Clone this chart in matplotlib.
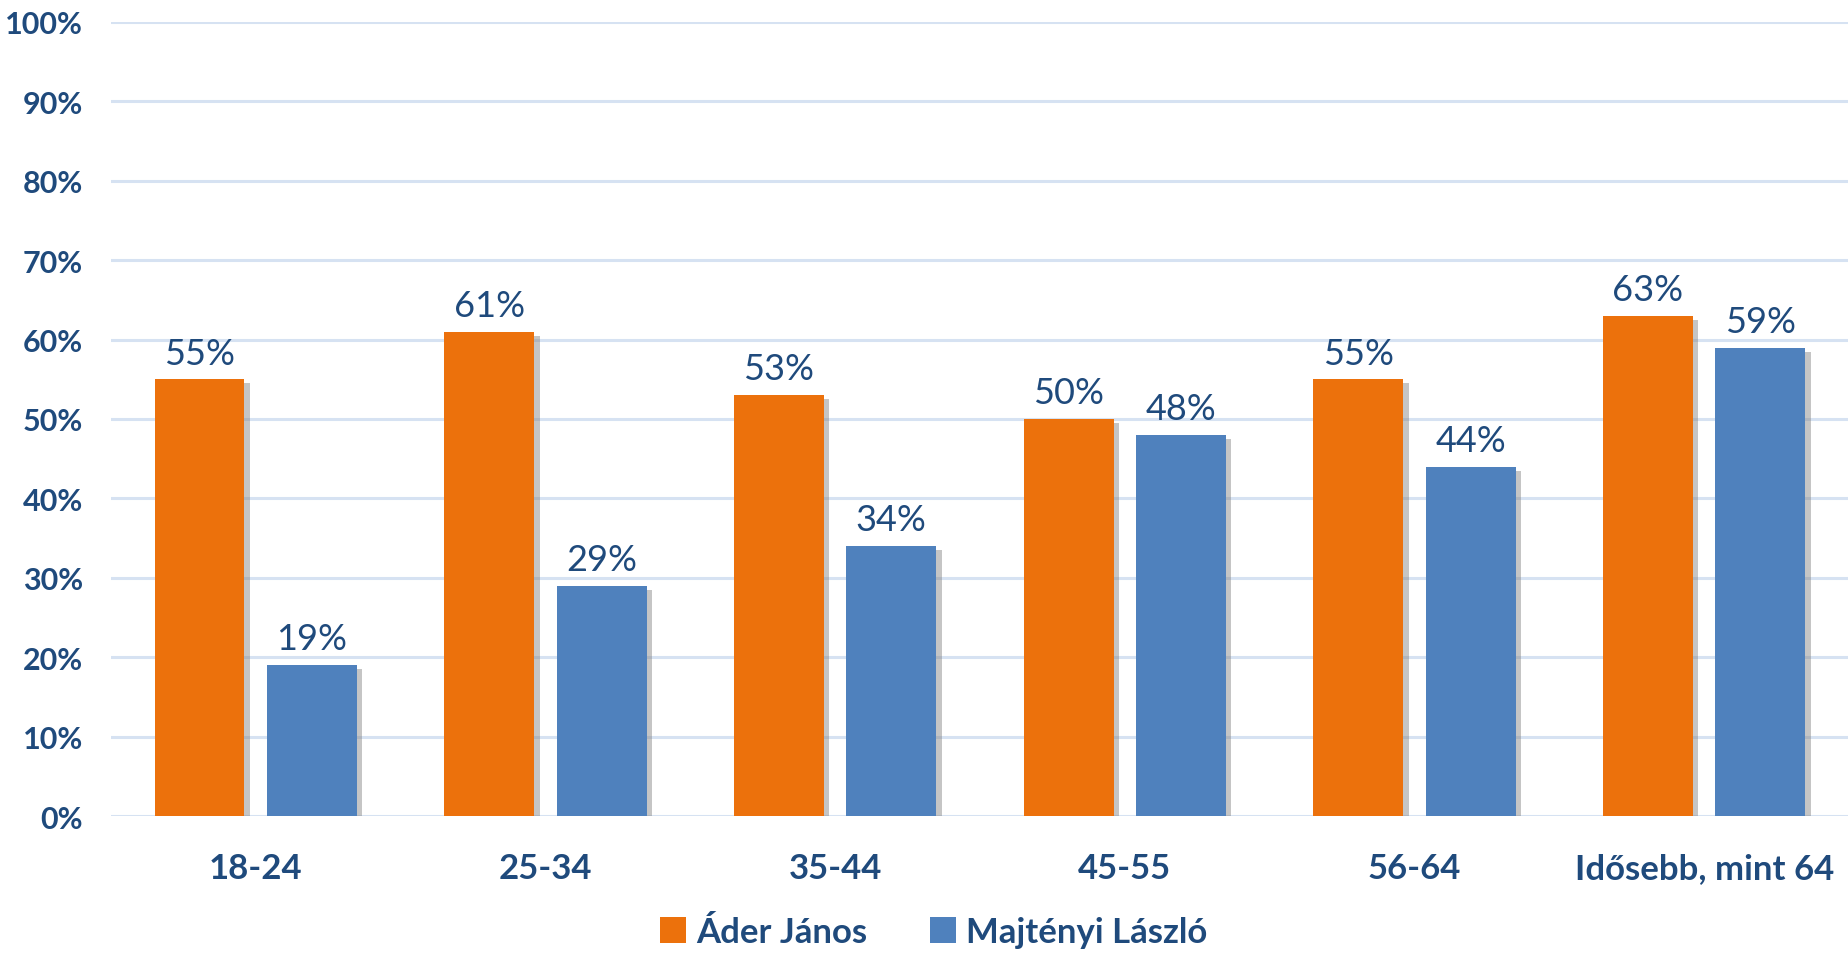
import matplotlib
matplotlib.use('Agg')
import matplotlib.pyplot as plt
import matplotlib.patheffects as pe
import numpy as np

categories = ['18-24', '25-34', '35-44', '45-55', '56-64', 'Idősebb, mint 64']
ader = [55, 61, 53, 50, 55, 63]
majtenyi = [19, 29, 34, 48, 44, 59]
series_names = ['Áder János', 'Majtényi László']
yticks = list(range(0, 101, 10))

plt.rcParams['font.family'] = ['Lato', 'DejaVu Sans']
text_col = '#1F4A7C'
orange = '#EC710C'
blue = '#4F81BD'

fig = plt.figure(figsize=(18.49, 9.54), dpi=100)
ax = fig.add_axes([0.060, 0.1436, 0.94, 0.8323])

x = np.arange(len(categories))
w = 0.31
off = 0.194
shadow = [pe.SimplePatchShadow(offset=(4, -3), shadow_rgbFace='#808080', alpha=0.45), pe.Normal()]

b1 = ax.bar(x - off, ader, w, color=orange, label=series_names[0], zorder=3, path_effects=shadow)
b2 = ax.bar(x + off, majtenyi, w, color=blue, label=series_names[1], zorder=3, path_effects=shadow)

for bars, vals in ((b1, ader), (b2, majtenyi)):
    for r, v in zip(bars, vals):
        ax.annotate(f'{v}%', (r.get_x() + r.get_width() / 2, v), xytext=(0, 7),
                    textcoords='offset points', ha='center', va='bottom',
                    fontsize=26, color=text_col)

ax.set_xlim(-0.5, 5.5)
ax.set_ylim(0, 100)
ax.set_yticks(yticks)
ax.set_yticklabels([f'{t}%' for t in yticks], fontsize=22, fontweight='bold', color=text_col)
ax.set_xticks(x)
ax.set_xticklabels(categories, fontsize=25, fontweight='bold', color=text_col)
ax.tick_params(axis='both', length=0)
ax.tick_params(axis='x', pad=26)
ax.tick_params(axis='y', pad=20)
ax.grid(axis='y', color='#D6E2F2', linewidth=2.2, zorder=0)
for s in ax.spines.values():
    s.set_visible(False)

leg = fig.legend(handles=[b1, b2], labels=series_names, loc='center', bbox_to_anchor=(0.505, 0.022),
                 ncol=2, frameon=False, handlelength=0.75, handleheight=0.75, handletextpad=0.3,
                 columnspacing=1.8, prop={'size': 25, 'weight': 'bold'})
for t in leg.get_texts():
    t.set_color(text_col)
for h in leg.legend_handles:
    h.set_path_effects([])

fig.savefig('out.png', dpi=100)
